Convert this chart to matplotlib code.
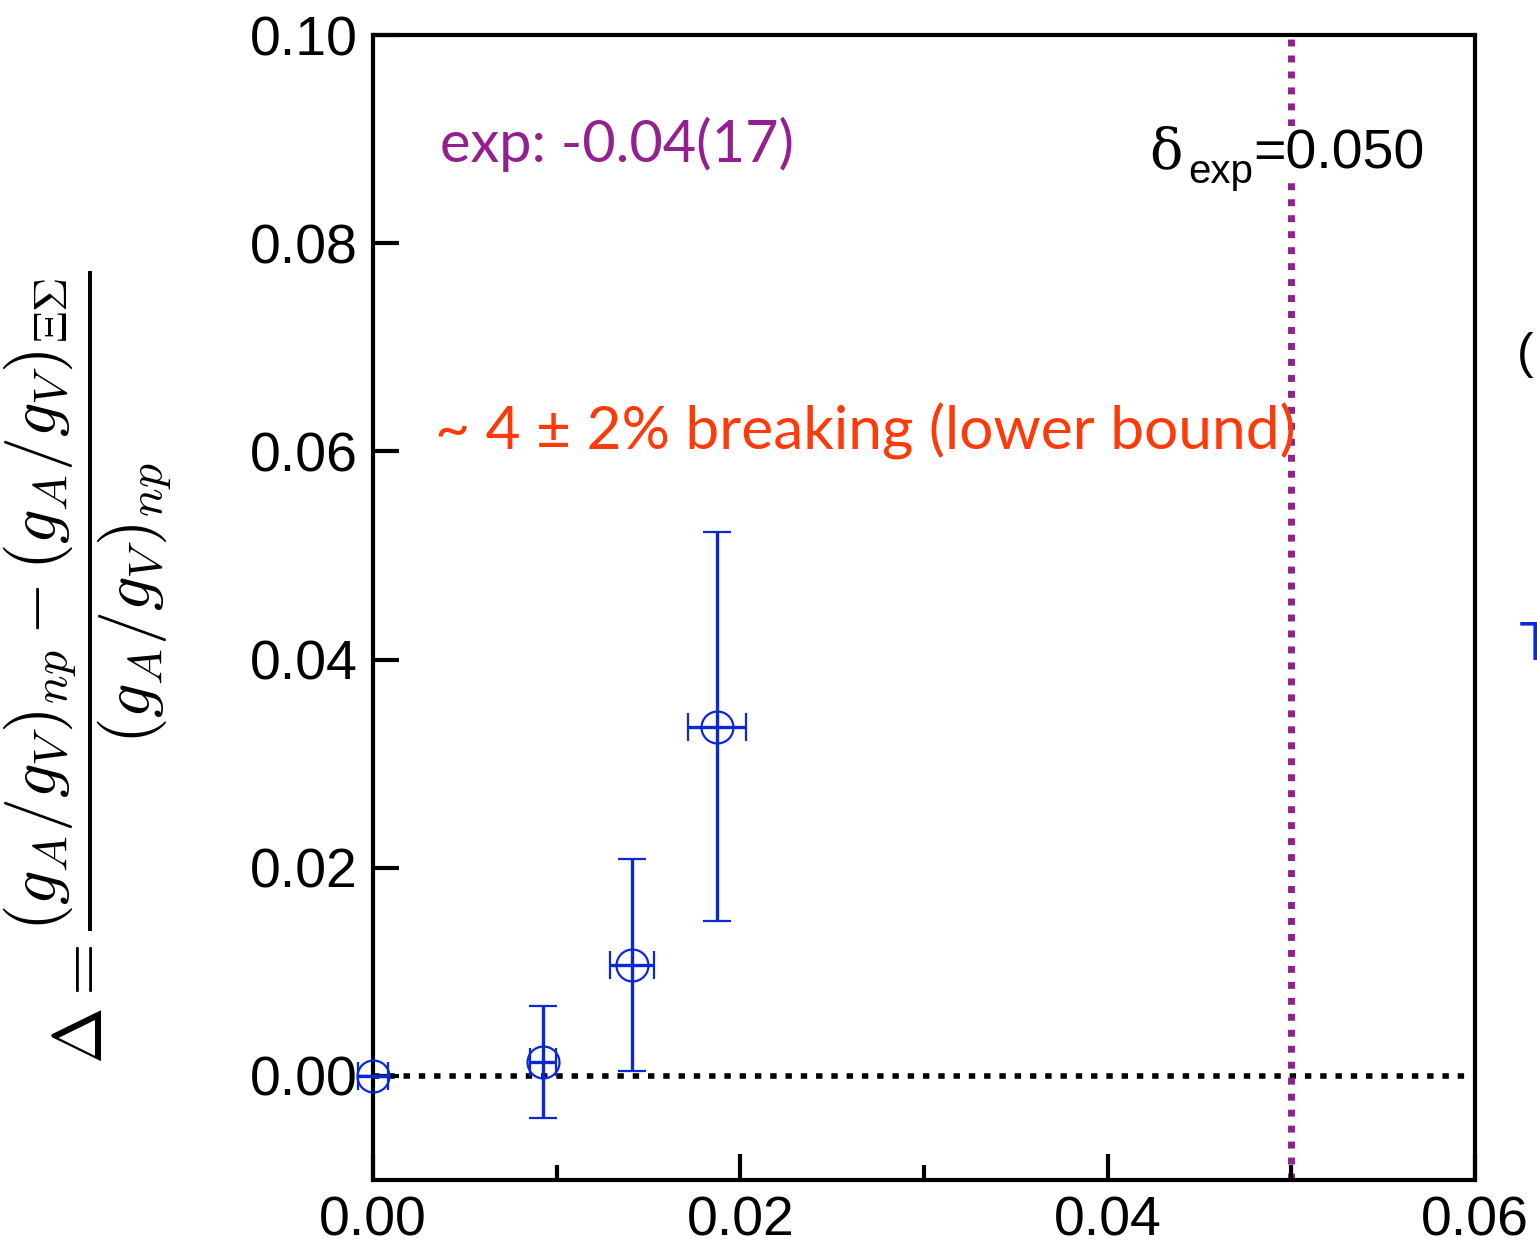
import matplotlib
matplotlib.use("Agg")
import matplotlib.pyplot as plt

# Lattice points: flavour-breaking parameter vs. relative difference Delta
x_vals = [0.0, 0.00926, 0.01411, 0.01875]
y_vals = [0.0, 0.00134, 0.01064, 0.03356]
x_err = [0.0008, 0.0007, 0.0012, 0.00158]
y_err_lo = [0.0, 0.0054, 0.0102, 0.0187]
y_err_hi = [0.0, 0.0054, 0.0102, 0.0187]

delta_exp = 0.050
x_ticks = [0.00, 0.02, 0.04, 0.06]
x_minor = [0.01, 0.03, 0.05]
y_ticks = [0.00, 0.02, 0.04, 0.06, 0.08, 0.10]
x_labels = ["0.00", "0.02", "0.04", "0.06"]
y_labels = ["0.00", "0.02", "0.04", "0.06", "0.08", "0.10"]

BLUE = "#0a28d8"
PURPLE = "#932090"
RED = "#ff3a0a"

plt.rcParams["mathtext.fontset"] = "cm"

fig = plt.figure(figsize=(15.37, 12.52), dpi=100)
ax = fig.add_axes([0.2427, 0.0575, 0.7170, 0.9145])
ax.set_xlim(0.0, 0.06)
ax.set_ylim(-0.01, 0.10)

# reference lines
ax.axhline(0.0, color="black", lw=4.0, linestyle=(0, (1.15, 1.6)), zorder=1)
ax.axvline(delta_exp, color=PURPLE, lw=5.0, linestyle=(0, (1.0, 1.3)), zorder=1)

ax.errorbar(x_vals, y_vals, xerr=x_err, yerr=[y_err_lo, y_err_hi],
            fmt="o", ms=23, mfc="none", mec=BLUE, mew=1.6,
            ecolor=BLUE, elinewidth=2.4, capsize=10, capthick=2.4,
            color=BLUE, zorder=3, clip_on=False)

for s in ax.spines.values():
    s.set_linewidth(3.0)

ax.set_xticks(x_ticks)
ax.set_xticklabels(x_labels)
ax.set_xticks(x_minor, minor=True)
ax.set_yticks(y_ticks)
ax.set_yticklabels(y_labels)
ax.tick_params(axis="both", which="major", direction="in", length=19, width=3,
               labelsize=40, pad=11)
ax.tick_params(axis="x", which="minor", direction="in", length=11, width=3)
ax.tick_params(top=False, right=False, which="both")
for lab in ax.get_xticklabels() + ax.get_yticklabels():
    lab.set_fontfamily("Liberation Sans")

# annotations
ax.text(0.00365, 0.0878, "exp: -0.04(17)", color=PURPLE, fontsize=41.5,
        family="Lato", ha="left", va="baseline")
ax.text(0.00338, 0.0602, "~ 4 \u00b1 2% breaking (lower bound)", color=RED,
        fontsize=43.5, family="Lato", ha="left", va="baseline", zorder=4)

ax.text(0.0479, 0.0872, "=0.050", color="black", fontsize=40,
        family="Liberation Sans", ha="left", va="baseline", zorder=5,
        bbox=dict(facecolor="white", edgecolor="none", pad=2))
ax.text(0.0479, 0.0858, "exp", color="black", fontsize=29,
        family="Liberation Sans", ha="right", va="baseline", zorder=5,
        bbox=dict(facecolor="white", edgecolor="none", pad=1))
ax.text(0.04224, 0.0872, "\u03b4", color="black", fontsize=40,
        family="DejaVu Serif", ha="left", va="baseline", zorder=5)

# y-axis label
fig.text(0.057, 0.467,
         r"$\Delta = \dfrac{(g_A/g_V)_{np} - (g_A/g_V)_{\Xi\Sigma}}{(g_A/g_V)_{np}}$",
         rotation=90, fontsize=49, ha="center", va="center")

# fragments of the neighbouring panel at the right edge
fig.text(1517 / 1537, 1 - 368 / 1252, "(", fontsize=36, family="Liberation Sans",
         ha="left", va="baseline")
fig.text(1519 / 1537, 1 - 660 / 1252, "T", fontsize=40, family="Liberation Sans",
         color=BLUE, ha="left", va="baseline")

fig.savefig("out.png", dpi=100)
